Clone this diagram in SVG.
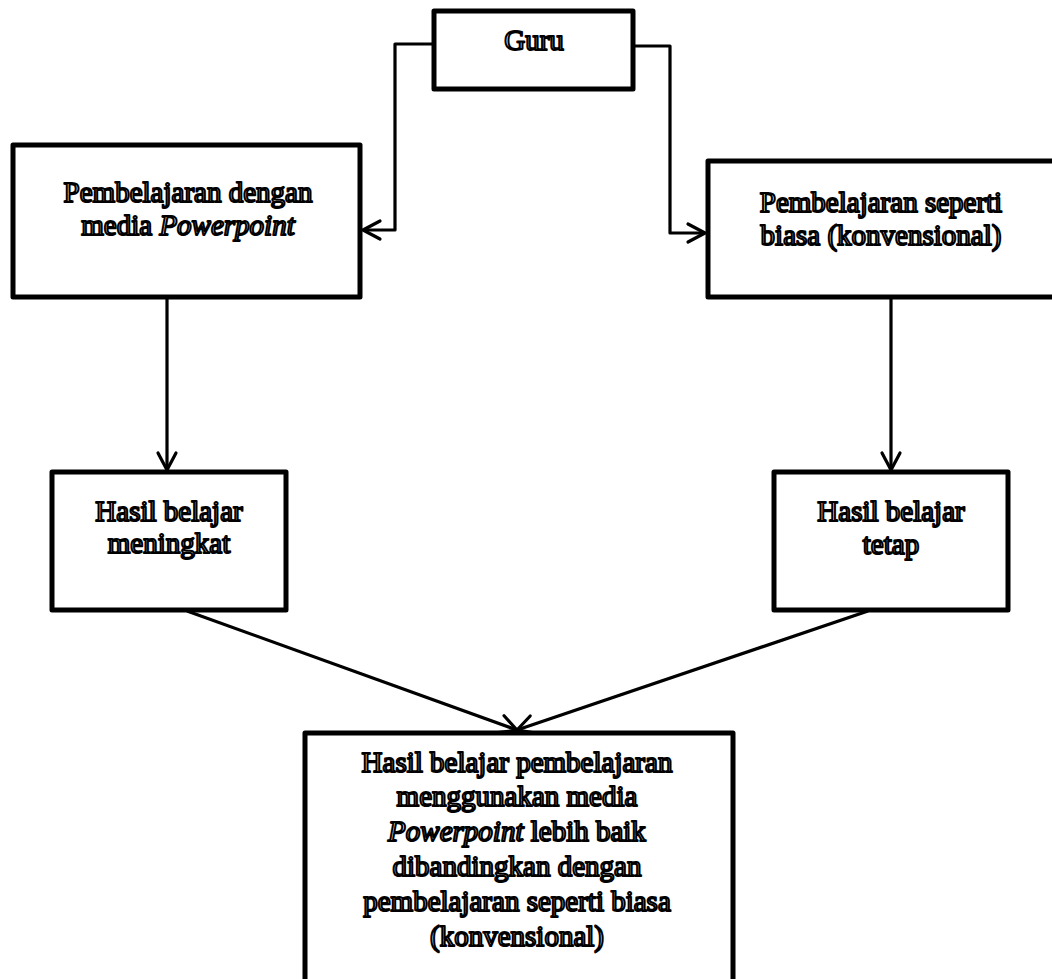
<svg xmlns="http://www.w3.org/2000/svg" width="1052" height="979" viewBox="0 0 1052 979">
<style>
.box{fill:#fff;stroke:#000;stroke-width:5;stroke-linejoin:round}
.lbl{font-family:"Liberation Serif","Times New Roman",serif;font-size:29px;fill:#fff;stroke:#000;stroke-width:2;stroke-linejoin:round;text-anchor:middle}
.conn{fill:none;stroke:#000;stroke-width:3.2;stroke-linejoin:round}
</style>
<defs>
<marker id="arr" markerUnits="userSpaceOnUse" markerWidth="24" markerHeight="24" viewBox="-20 -12 24 24" refX="0" refY="0" orient="auto">
<path d="M-17,-9 L0,0 L-17,9" fill="none" stroke="#000" stroke-width="3.2" stroke-linecap="round" stroke-linejoin="round"/>
</marker>
</defs>
<rect width="1052" height="979" fill="#fff"/>
<g id="connectors">
<path class="conn" d="M434,44 H395 V230 H363" marker-end="url(#arr)"/>
<path class="conn" d="M633,46 H670 V233 H705" marker-end="url(#arr)"/>
<path class="conn" d="M167,298 V470" marker-end="url(#arr)"/>
<path class="conn" d="M891,297 V470" marker-end="url(#arr)"/>
<path class="conn" d="M187,611 L517,730" marker-end="url(#arr)"/>
<path class="conn" d="M868,611 L517,730" marker-end="url(#arr)"/>
</g>
<g id="guru">
<rect class="box" x="434" y="11" width="199" height="78"/>
<text class="lbl" x="534" y="50">Guru</text>
</g>
<g id="pembelajaran-powerpoint">
<rect class="box" x="13" y="145" width="347" height="152"/>
<text class="lbl" x="188" y="202">Pembelajaran dengan</text>
<text class="lbl" x="188" y="235">media <tspan font-style="italic">Powerpoint</tspan></text>
</g>
<g id="pembelajaran-konvensional">
<rect class="box" x="708" y="161" width="347" height="136"/>
<text class="lbl" x="881" y="212">Pembelajaran seperti</text>
<text class="lbl" x="881" y="245">biasa (konvensional)</text>
</g>
<g id="hasil-meningkat">
<rect class="box" x="52" y="472" width="234" height="138"/>
<text class="lbl" x="169" y="521">Hasil belajar</text>
<text class="lbl" x="169" y="553">meningkat</text>
</g>
<g id="hasil-tetap">
<rect class="box" x="774" y="472" width="234" height="138"/>
<text class="lbl" x="891" y="521">Hasil belajar</text>
<text class="lbl" x="891" y="554">tetap</text>
</g>
<g id="kesimpulan">
<rect class="box" x="305" y="733" width="428" height="270"/>
<text class="lbl" x="517" y="772">Hasil belajar pembelajaran</text>
<text class="lbl" x="517" y="806">menggunakan media</text>
<text class="lbl" x="517" y="841"><tspan font-style="italic">Powerpoint</tspan> lebih baik</text>
<text class="lbl" x="517" y="876">dibandingkan dengan</text>
<text class="lbl" x="517" y="911">pembelajaran seperti biasa</text>
<text class="lbl" x="517" y="946">(konvensional)</text>
</g>
</svg>
